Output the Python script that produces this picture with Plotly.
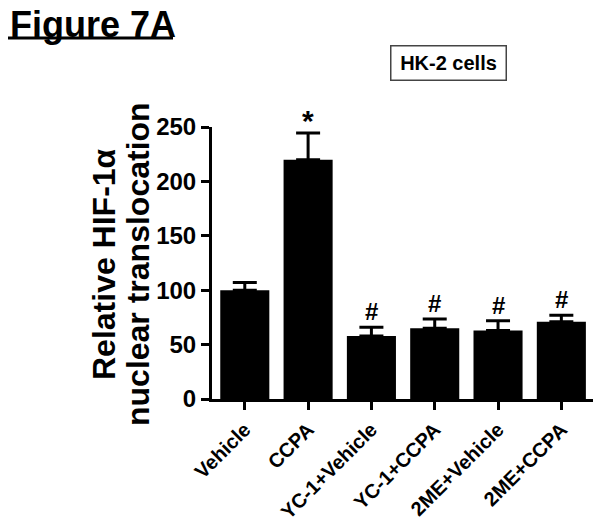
import plotly.graph_objects as go

# data
groups = ['Vehicle', 'CCPA', 'YC-1+Vehicle', 'YC-1+CCPA', '2ME+Vehicle', '2ME+CCPA']
means = [100, 220, 58, 65, 63, 71]
sems = [7, 24.5, 8, 8.5, 9, 6]
marks = ['', '*', '#', '#', '#', '#']

# the page body adds an 8px margin, so the figure is drawn 8px smaller
OFF = 8
W, H = 601 - OFF, 521 - OFF
L, R, T, B = 204, 8, 119, 122
FONT = 'Liberation Sans, Arial, sans-serif'


def px2paper(x, y):
    # screenshot pixels -> paper coords, for the decorations only
    pw, ph = W - L - R, H - T - B
    return (x - OFF - L) / pw, (H - B - (y - OFF)) / ph


fig = go.Figure()
fig.add_trace(go.Bar(
    x=groups, y=means,
    marker=dict(color='black', line=dict(width=0)),
    error_y=dict(type='data', array=sems, arrayminus=[0] * len(sems), symmetric=False,
                 color='black', thickness=3, width=12),
))

# significance marks above the error bars
for g, m, s, mk in zip(groups, means, sems, marks):
    if not mk:
        continue
    if mk == '*':
        fig.add_annotation(x=g, y=m + s, text='<b>*</b>', showarrow=False, yanchor='bottom',
                           yshift=-6, font=dict(family=FONT, size=30, color='black'))
    else:
        fig.add_annotation(x=g, y=m + s, text='<b>#</b>', showarrow=False, yanchor='bottom',
                           yshift=0, font=dict(family=FONT, size=24, color='black'))

# panel label with underline
x0, y0 = px2paper(8, 2)
fig.add_annotation(xref='paper', yref='paper', x=x0, y=y0, xanchor='left', yanchor='top',
                   text='<b>Figure 7A</b>', showarrow=False,
                   font=dict(family=FONT, size=36, color='black'))
ux0, uy = px2paper(8, 38)
ux1, _ = px2paper(173, 38)
fig.add_shape(type='line', xref='paper', yref='paper', x0=ux0, x1=ux1, y0=uy, y1=uy,
              line=dict(color='black', width=3))

# boxed cell-line label
bx, by = px2paper(448.7, 63.3)
fig.add_annotation(xref='paper', yref='paper', x=bx, y=by, xanchor='center', yanchor='middle',
                   text='<b>HK-2 cells</b>',
                   showarrow=False, width=112, height=31, borderpad=1,
                   bordercolor='#444', borderwidth=1.5, bgcolor='white',
                   font=dict(family=FONT, size=20, color='black'))

# y axis title, two rotated lines
for txt, cx in [('Relative HIF-1α', 104), ('nuclear translocation', 138)]:
    ax_, ay_ = px2paper(cx, 264)
    fig.add_annotation(xref='paper', yref='paper', x=ax_, y=ay_, xanchor='center', yanchor='middle',
                       text='<b>' + txt + '</b>', textangle=-90, showarrow=False,
                       font=dict(family=FONT, size=32, color='black'))

fig.update_layout(
    width=W, height=H,
    margin=dict(l=L, r=R, t=T, b=B),
    paper_bgcolor='white', plot_bgcolor='white',
    showlegend=False, bargap=0.225,
    font=dict(family=FONT, color='black'),
)
fig.update_xaxes(
    range=[-0.518, 5.5], showline=True, linecolor='black', linewidth=3,
    ticks='outside', ticklen=8, tickwidth=3, tickcolor='black', tickangle=-45,
    tickfont=dict(family=FONT, size=20, color='black', weight='bold'),
    showgrid=False, zeroline=False, automargin=False,
)
fig.update_yaxes(
    range=[0, 250], tickvals=[0, 50, 100, 150, 200, 250],
    showline=True, linecolor='black', linewidth=3,
    ticks='outside', ticklen=8, tickwidth=3, tickcolor='black',
    tickfont=dict(family=FONT, size=24, color='black', weight='bold'),
    showgrid=False, zeroline=False, automargin=False,
)

fig.write_html('out.html')
